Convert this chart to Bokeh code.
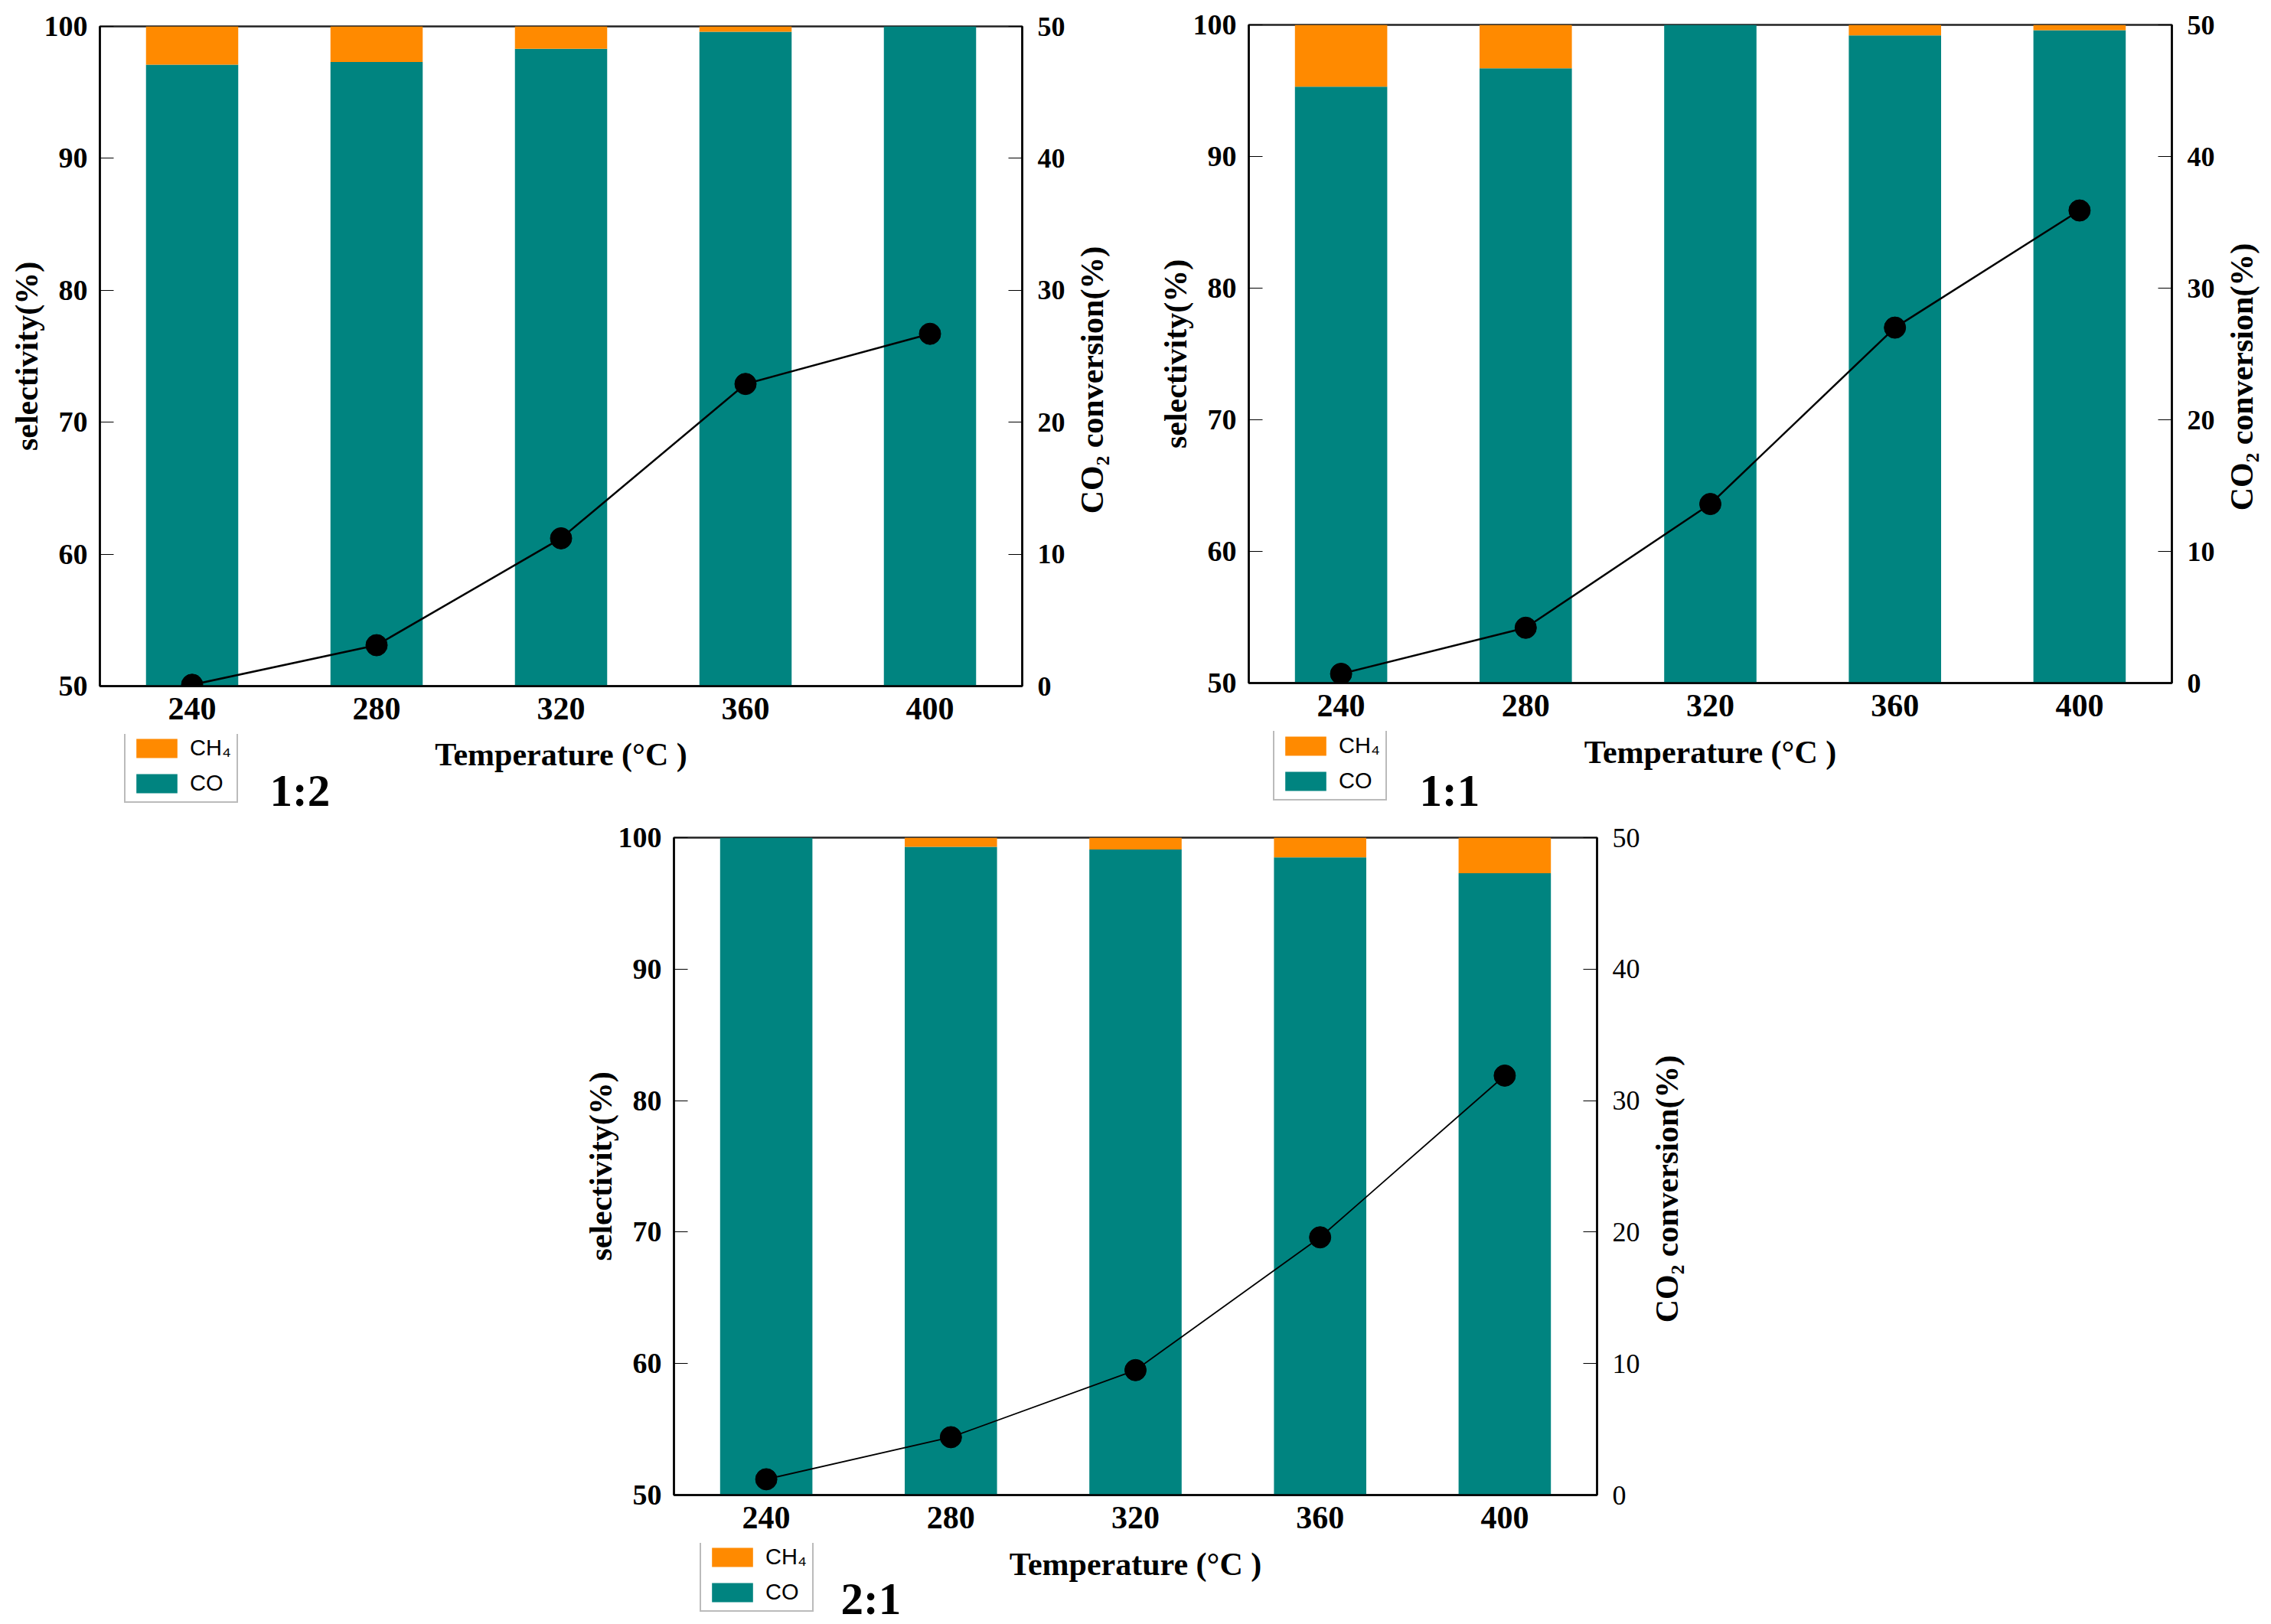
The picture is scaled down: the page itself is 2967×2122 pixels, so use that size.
import math

from bokeh.core.properties import value
from bokeh.embed import file_html
from bokeh.layouts import column, row
from bokeh.models import (ColumnDataSource, FactorRange, Legend, LegendItem,
                          LinearAxis, Range1d, Spacer)
from bokeh.plotting import figure
from bokeh.resources import INLINE

# data
temps = ["240", "280", "320", "360", "400"]

co_12 = [97.1, 97.3, 98.3, 99.6, 100.0]
ch4_12 = [2.9, 2.7, 1.7, 0.4, 0.0]
conv_12 = [0.1, 3.1, 11.2, 22.9, 26.7]

co_11 = [95.3, 96.7, 100.0, 99.2, 99.6]
ch4_11 = [4.7, 3.3, 0.0, 0.8, 0.4]
conv_11 = [0.7, 4.2, 13.6, 27.0, 35.9]

co_21 = [100.0, 99.3, 99.1, 98.5, 97.3]
ch4_21 = [0.0, 0.7, 0.9, 1.5, 2.7]
conv_21 = [1.2, 4.4, 9.5, 19.6, 31.9]

sel_ticks = [50, 60, 70, 80, 90, 100]
conv_ticks = [0, 10, 20, 30, 40, 50]

TEAL = "#008480"
ORANGE = "#FF8A00"
SERIF = "Liberation Serif"
BOTTOM = 63   # border under the bars: only the tick labels live there
RIGHT = 60    # border right of the bars: only the right tick labels


def bare(fw, fh, left, right, top, bottom):
    # axis-less figure whose frame units are pixels from its bottom-left
    return figure(frame_width=fw, frame_height=fh,
                  min_border_left=left, min_border_right=right,
                  min_border_top=top, min_border_bottom=bottom,
                  x_range=Range1d(0, fw), y_range=Range1d(0, fh),
                  x_axis_type=None, y_axis_type=None,
                  outline_line_color=None,
                  output_backend="svg", toolbar_location=None)


def make_panel(co, ch4, conv, ratio, fw, fh, left, right, top, strip_h,
               right_bold=True, line_w=2.5,
               leg_x=32, leg_d=153, temp_d=88, ratio_x=222, ratio_d=136):
    src = ColumnDataSource(dict(temp=temps, co=co,
                                ch4_top=[c + h for c, h in zip(co, ch4)],
                                conv=conv))
    p = figure(x_range=FactorRange(*temps, range_padding=0),
               y_range=Range1d(50, 100),
               frame_width=fw, frame_height=fh,
               min_border_left=left, min_border_right=RIGHT,
               min_border_top=top, min_border_bottom=BOTTOM,
               output_backend="svg", toolbar_location=None)
    p.extra_y_ranges = {"conv": Range1d(0, 50)}

    p.vbar(x="temp", bottom=50, top="co", width=0.5, color=TEAL,
           line_color=None, source=src)
    p.vbar(x="temp", bottom="co", top="ch4_top", width=0.5, color=ORANGE,
           line_color=None, source=src)
    p.line(x="temp", y="conv", y_range_name="conv", color="black",
           line_width=line_w, source=src)
    p.scatter(x="temp", y="conv", y_range_name="conv", size=28,
              color="black", source=src)

    p.xgrid.visible = False
    p.ygrid.visible = False
    p.outline_line_color = "#222222"
    p.outline_line_width = 2.5

    # left axis
    p.yaxis.ticker = sel_ticks
    p.yaxis.major_tick_in = 18
    p.yaxis.major_tick_out = 0
    p.yaxis.minor_tick_line_color = None
    p.yaxis.major_label_standoff = 16
    p.yaxis.major_label_text_font = SERIF
    p.yaxis.major_label_text_font_style = "bold"
    p.yaxis.major_label_text_font_size = "38px"
    p.yaxis.major_label_text_color = "black"
    p.yaxis.axis_line_width = 2.5
    p.yaxis.axis_label = "selectivity(%)"
    p.yaxis.axis_label_text_font = SERIF
    p.yaxis.axis_label_text_font_style = "bold"
    p.yaxis.axis_label_text_font_size = "42px"
    p.yaxis.axis_label_text_color = "black"
    p.yaxis.axis_label_standoff = -3

    # bottom axis, its title is drawn in the strip below
    p.xaxis.major_tick_in = 0
    p.xaxis.major_tick_out = 0
    p.xaxis.major_tick_line_color = None
    p.xaxis.major_label_standoff = 15
    p.xaxis.major_label_text_font = SERIF
    p.xaxis.major_label_text_font_style = "bold"
    p.xaxis.major_label_text_font_size = "42px"
    p.xaxis.major_label_text_color = "black"
    p.xaxis.axis_line_width = 2.5

    # right axis, its title is drawn in the strip to the right
    ax = LinearAxis(y_range_name="conv", ticker=conv_ticks)
    ax.major_tick_in = 18
    ax.major_tick_out = 0
    ax.minor_tick_line_color = None
    ax.major_label_standoff = 20
    ax.major_label_text_font = SERIF
    ax.major_label_text_font_style = "bold" if right_bold else "normal"
    ax.major_label_text_font_size = "36px"
    ax.major_label_text_color = "black"
    ax.axis_line_width = 2.5
    p.add_layout(ax, "right")

    # right strip: CO2 conversion title, reading upwards
    rw = right - RIGHT
    rs = bare(rw, fh, 0, 0, top, BOTTOM)
    rs.text(x=[91 - RIGHT], y=[400], text=["CO₂ conversion(%)"],
            angle=math.pi / 2, text_font=value(SERIF),
            text_font_style="bold", text_font_size="42px",
            text_align="center", text_baseline="middle", text_color="black")

    # bottom strip: legend, x title and ratio
    bs = bare(fw, strip_h, left, right, 0, 0)
    base = BOTTOM + strip_h  # bottom edge of the bars, in strip units

    # zero-sized stand-ins, only there to give the legend its swatches
    r_ch4 = bs.vbar(x=[0], top=[0], width=0, color=ORANGE, line_color=None)
    r_co = bs.vbar(x=[0], top=[0], width=0, color=TEAL, line_color=None)
    legend = Legend(items=[LegendItem(label="CH₄", renderers=[r_ch4]),
                           LegendItem(label="CO", renderers=[r_co])],
                    location=(leg_x, base - leg_d))
    legend.glyph_width = 67
    legend.glyph_height = 31
    legend.label_text_font = "Liberation Sans"
    legend.label_text_font_size = "29px"
    legend.label_text_color = "black"
    legend.label_standoff = 10
    legend.spacing = 13
    legend.padding = 7
    legend.margin = 0
    legend.border_line_color = "#777777"
    legend.border_line_width = 2
    bs.add_layout(legend)

    bs.text(x=[fw / 2], y=[base - temp_d],
            text=["Temperature (°C )"], text_font=value(SERIF),
            text_font_style="bold", text_font_size="42px",
            text_align="center", text_baseline="middle", text_color="black")
    bs.text(x=[ratio_x], y=[base - ratio_d], text=[ratio],
            text_font=value(SERIF), text_font_style="bold",
            text_font_size="59px", text_align="left",
            text_baseline="alphabetic", text_color="black")

    return column(row(p, rs), bs)


# panel 1:2  (frame x 130..1335, y 34..896)
pan1 = make_panel(co_12, ch4_12, conv_12, "1:2", 1205, 862, 130, 145, 34,
                  106, temp_d=89)
# panel 1:1  (frame x 1631..2837, y 32..892)
pan2 = make_panel(co_11, ch4_11, conv_11, "1:1", 1206, 860, 151, 130, 32,
                  110, leg_d=154, temp_d=90, ratio_x=223, ratio_d=140)
# panel 2:1  (frame x 880..2086, y 1094..1953), row starts at y 1065
pan3 = make_panel(co_21, ch4_21, conv_21, "2:1", 1206, 859, 150, 150, 29,
                  106, right_bold=False, line_w=1.8,
                  leg_x=34, leg_d=153, temp_d=90, ratio_x=218, ratio_d=135)

page = column(row(pan1, pan2),
              row(Spacer(width=730, height=10), pan3))

open("out.html", "w").write(file_html(page, INLINE))
